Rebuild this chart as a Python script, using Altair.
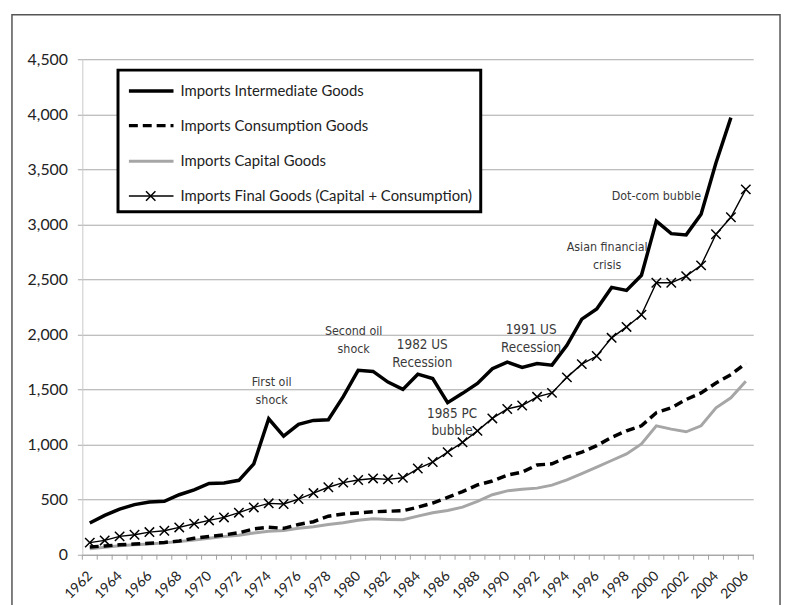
import altair as alt
import pandas as pd

years = list(range(1962, 2007))
intermediate = [288, 358, 415, 455, 479, 485, 545, 590, 648, 651, 676, 825,
                1235, 1078, 1185, 1220, 1226, 1436, 1675, 1665, 1568, 1502,
                1640, 1600, 1381, 1466, 1556, 1690, 1750, 1702, 1736, 1722,
                1902, 2140, 2232, 2428, 2400, 2538, 3030, 2916, 2905, 3092, 3560, 3970]
consumption = [70, 80, 90, 98, 105, 112, 125, 150, 165, 180,
               200, 235, 250, 240, 275, 300, 350, 370, 380, 390,
               395, 400, 432, 470, 521, 574, 634, 670, 723, 750,
               815, 826, 886, 931, 991, 1066, 1126, 1171, 1290, 1335,
               1410, 1470, 1560, 1635, 1740]
capital = [55, 68, 82, 90, 98, 108, 120, 133, 150, 165,
           178, 198, 213, 220, 240, 255, 275, 290, 313, 327,
           321, 318, 351, 381, 402, 432, 485, 545, 580, 595,
           605, 632, 680, 737, 796, 856, 916, 1006, 1171, 1141,
           1117, 1171, 1335, 1425, 1575]
final_goods = [110, 130, 167, 182, 206, 218, 248, 282, 312, 339,
               382, 430, 467, 461, 506, 560, 613, 655, 679, 693,
               685, 699, 783, 842, 932, 1021, 1125, 1238, 1324, 1355,
               1434, 1470, 1611, 1731, 1805, 1970, 2069, 2180, 2470, 2470,
               2530, 2628, 2911, 3065, 3318]

series_names = ["Imports Intermediate Goods", "Imports Consumption Goods",
                "Imports Capital Goods", "Imports Final Goods (Capital + Consumption)"]

y_ticks = list(range(0, 4501, 500))
x_label_years = list(range(1962, 2007, 2))

# annotations (two text sizes)
ann_small_text = ["First oil\nshock", "Second oil\nshock", "Asian financial\ncrisis", "Dot-com bubble"]
ann_small_x = [1974.2, 1979.7, 1996.7, 2000.0]
ann_small_y = [1620, 2085, 2850, 3310]
ann_big_text = ["1982 US\nRecession", "1985 PC\nbubble", "1991 US\nRecession"]
ann_big_x = [1984.3, 1986.3, 1991.6]
ann_big_y = [1965, 1345, 2100]

def make_df(name, vals):
    return pd.DataFrame({"year": years[:len(vals)], "value": vals, "series": name})

df_int = make_df(series_names[0], intermediate)
df_con = make_df(series_names[1], consumption)
df_cap = make_df(series_names[2], capital)
df_fin = make_df(series_names[3], final_goods)
df_ticks = pd.DataFrame({"t": [y - 0.5 for y in years] + [years[-1] + 0.5]})
df_small = pd.DataFrame({"year": ann_small_x, "value": ann_small_y, "label": ann_small_text})
df_big = pd.DataFrame({"year": ann_big_x, "value": ann_big_y, "label": ann_big_text})
one = pd.DataFrame({"a": [0]})

xscale = alt.Scale(domain=[years[0] - 0.5, years[-1] + 0.5], nice=False, zero=False)
yscale = alt.Scale(domain=[0, 4500], nice=False)
xaxis = alt.Axis(values=x_label_years, format="d", labelAngle=-45, labelAlign="right",
                 labelBaseline="middle", labelPadding=19, ticks=False, grid=False,
                 domainColor="#a0a0a0", labelFont="Lato", labelFontSize=14,
                 labelColor="#222222", title=None, labelOverlap=False)
yaxis = alt.Axis(values=y_ticks, format=",.0f", grid=True, gridColor="#a8a8a8", gridWidth=1,
                 domainColor="#c8c8c8", tickColor="#a8a8a8", tickSize=5,
                 labelFont="Lato", labelFontSize=16, labelColor="#222222",
                 labelPadding=10, title=None)

def X(field="year"):
    return alt.X(f"{field}:Q", scale=xscale, axis=xaxis)

def Y(field="value"):
    return alt.Y(f"{field}:Q", scale=yscale, axis=yaxis)

cap_line = alt.Chart(df_cap).mark_line(color="#a6a6a6", strokeWidth=3).encode(x=X(), y=Y())
con_line = alt.Chart(df_con).mark_line(color="black", strokeWidth=3.5, strokeDash=[9, 5]).encode(x=X(), y=Y())
fin_line = alt.Chart(df_fin).mark_line(color="black", strokeWidth=1.4).encode(x=X(), y=Y())
xshape = "M-1,-1L1,1M-1,1L1,-1"
fin_pts = alt.Chart(df_fin).mark_point(shape=xshape, filled=False, color="black",
                                       strokeWidth=1.5, size=90, opacity=1).encode(x=X(), y=Y())
int_line = alt.Chart(df_int).mark_line(color="black", strokeWidth=3.5).encode(x=X(), y=Y())

tick_marks = alt.Chart(df_ticks).mark_rule(color="#a0a0a0", strokeWidth=1).encode(
    x=X("t"), y=alt.value(500), y2=alt.value(505))

ann_font = "Liberation Sans Narrow, Arial Narrow, DejaVu Sans Condensed, sans-serif"
ann_small = alt.Chart(df_small).mark_text(lineBreak="\n", baseline="top", align="center",
                                          font=ann_font, fontSize=12.5, lineHeight=18,
                                          color="#3a3a3a").encode(x=X(), y=Y(), text="label:N")
ann_big = alt.Chart(df_big).mark_text(lineBreak="\n", baseline="top", align="center",
                                      font=ann_font, fontSize=13.5, lineHeight=18,
                                      color="#3a3a3a").encode(x=X(), y=Y(), text="label:N")

# outer frame
frame = alt.Chart(one).mark_rect(fill="transparent", stroke="#555555", strokeWidth=1.5).encode(
    x=alt.value(-71), x2=alt.value(704), y=alt.value(-45), y2=alt.value(560))

# manual legend
legend_layers = [alt.Chart(one).mark_rect(fill="white", stroke="black", strokeWidth=3).encode(
    x=alt.value(36), x2=alt.value(402), y=alt.value(11), y2=alt.value(154))]
row_y = [32, 67, 103, 138]
styles = [dict(color="black", strokeWidth=3.5),
          dict(color="black", strokeWidth=3.5, strokeDash=[9, 5]),
          dict(color="#a6a6a6", strokeWidth=3),
          dict(color="black", strokeWidth=1.4)]
for name, ry, st in zip(series_names, row_y, styles):
    legend_layers.append(alt.Chart(one).mark_rule(**st).encode(
        x=alt.value(47), x2=alt.value(92), y=alt.value(ry)))
    legend_layers.append(alt.Chart(one).mark_text(align="left", baseline="middle", font="Lato",
                                                  fontSize=15, color="#222222", text=name).encode(
        x=alt.value(99), y=alt.value(ry)))
legend_layers.append(alt.Chart(one).mark_point(shape=xshape, filled=False, color="black",
                                               strokeWidth=1.5, size=90, opacity=1).encode(
    x=alt.value(69), y=alt.value(row_y[3])))

chart = alt.layer(
    frame, tick_marks, cap_line, con_line, fin_line, fin_pts, int_line,
    ann_small, ann_big, *legend_layers
).properties(
    width=677, height=500,
    autosize=alt.AutoSizeParams(type="none"),
    padding={"left": 75, "top": 49, "right": 30, "bottom": 48},
    background="white",
).configure_view(stroke=None)

chart.save("out.html", embed_options={"renderer": "svg", "actions": False})
